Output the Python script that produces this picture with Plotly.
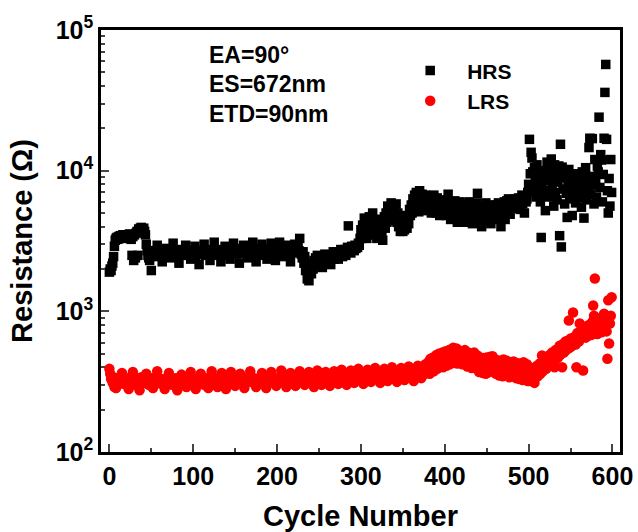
import plotly.graph_objects as go

cycles = list(range(0, 600))

hrs = [
    1900, 2000, 1950, 2100, 2200, 2450, 2900, 3200, 3300, 3350, 3250, 3400, 3300, 3450, 3350, 3400, 3500, 3300, 3450, 3400,
    3500, 3350, 3450, 3400, 3550, 3300, 3250, 2500, 3400, 2300, 3500, 2400, 3600, 3700, 2500, 3850, 3750, 3900, 3950, 3800,
    3850, 3900, 3700, 3500, 3000, 2700, 2500, 2400, 2300, 2500, 1950, 2500, 2650, 2550, 2700, 2600, 2450, 2950, 2600, 2550,
    2700, 2500, 2650, 2250, 2600, 2700, 2550, 2650, 2800, 2600, 2500, 2650, 2600, 2400, 2700, 2550, 3050, 2600, 2650, 2500,
    2550, 2700, 2600, 2200, 2650, 2550, 2750, 2600, 2500, 2650, 2600, 2950, 2550, 2650, 2700, 2500, 2600, 2350, 2650, 2550,
    2700, 2600, 2900, 2500, 2650, 2600, 2550, 2150, 2700, 2600, 2650, 2550, 2600, 3000, 2700, 2500, 2650, 2600, 2550, 2700,
    2300, 2600, 2650, 2750, 2550, 3100, 2600, 2650, 2500, 2700, 2600, 2550, 2700, 2250, 2650, 2600, 2750, 2550, 2900, 2650,
    2600, 2700, 2500, 2650, 2350, 2700, 2600, 2750, 3050, 2650, 2600, 2700, 2550, 2650, 2800, 2200, 2650, 2700, 2600, 2750,
    2950, 2650, 2600, 2700, 2550, 2400, 2700, 2650, 2750, 2600, 2700, 3100, 2650, 2600, 2750, 2250, 2700, 2650, 2600, 2800,
    2700, 2650, 3000, 2600, 2750, 2500, 2700, 2650, 2350, 2750, 2700, 2650, 2800, 3050, 2700, 2600, 2750, 2650, 2300, 2700,
    2800, 2650, 2750, 3100, 2700, 2600, 2750, 2450, 2700, 2800, 2650, 2750, 2950, 2700, 2600, 2800, 2250, 2700, 2750, 2650,
    2800, 3000, 2700, 2750, 2600, 2850, 2700, 3300, 2650, 2550, 2400, 2650, 2200, 2450, 1950, 2100, 1700, 1800, 1650, 1900,
    2050, 1850, 2200, 2000, 2300, 2100, 2400, 2250, 2500, 2300, 2350, 2150, 2450, 2300, 2050, 2400, 2300, 2550, 2250, 2400,
    2500, 2300, 2450, 2350, 2150, 2500, 2450, 2650, 2350, 2500, 2450, 2650, 2550, 2350, 2600, 2500, 2750, 2600, 2450, 2650,
    2600, 2750, 2500, 2700, 2850, 4050, 2700, 2800, 2600, 2900, 2750, 2850, 2700, 2950, 2800, 2900, 2850, 3050, 2950, 3300,
    3800, 3300, 4100, 3600, 4600, 3700, 4300, 3300, 4200, 3600, 4700, 4100, 3500, 4300, 5000, 3800, 3500, 4500, 3900, 3300,
    3700, 4200, 3400, 3900, 4500, 3500, 3200, 4000, 4700, 3900, 5000, 4300, 5600, 4500, 5300, 4400, 5900, 5000, 5500, 4500,
    5300, 4600, 5800, 4300, 5000, 4000, 4600, 3700, 4500, 4100, 3700, 4700, 3800, 4300, 4800, 3900, 4700, 4200, 5300, 4800,
    5700, 5000, 6300, 5200, 6700, 5600, 7000, 5800, 6500, 5100, 7200, 6000, 5400, 6800, 5800, 6300, 5200, 6700, 6000, 5500,
    6400, 5300, 6500, 5700, 5000, 6300, 5500, 6700, 5300, 6100, 5000, 6400, 5400, 6000, 4800, 5900, 5300, 6200, 4900, 5700,
    5400, 6000, 4800, 5600, 6800, 4900, 5800, 4500, 5500, 4600, 5900, 5000, 6100, 4700, 5400, 4300, 5700, 5000, 6000, 4600,
    5300, 5800, 4400, 5200, 5700, 4300, 5000, 5600, 4600, 6000, 5100, 4500, 5500, 4200, 5100, 5700, 4700, 5300, 5900, 6900,
    4900, 5500, 4500, 5300, 4000, 5600, 4700, 5400, 4600, 5900, 5000, 4400, 5500, 4700, 5400, 4200, 5700, 4900, 5500, 4500,
    5300, 5700, 4700, 5500, 5900, 4600, 5600, 4000, 5300, 5800, 5000, 6000, 4500, 5700, 6100, 5100, 6300, 5400, 4900, 6200,
    5600, 6000, 5400, 5900, 6300, 5700, 6100, 5500, 6400, 5900, 5300, 6200, 6700, 5800, 6100, 5000, 6500, 6000, 6300, 7000,
    8000, 16700, 9500, 13500, 12300, 9800, 7500, 10500, 8500, 6500, 11000, 8200, 7000, 9200, 6000, 3350, 7800, 10000, 6800, 9000,
    5200, 8500, 11500, 7200, 10300, 6500, 9000, 12100, 7600, 8800, 5600, 11000, 7000, 9500, 6200, 8300, 10800, 3450, 15400, 2870,
    10600, 7400, 8900, 5800, 9700, 6900, 4650, 8200, 10200, 6300, 8700, 7500, 4800, 9300, 6600, 8000, 5900, 9500, 7100, 8400,
    6400, 9000, 7300, 5500, 9800, 8100, 4600, 7000, 10500, 6200, 8600, 7700, 14600, 17000, 6800, 9100, 16900, 7900, 5800, 12000,
    8700, 6500, 10800, 9800, 24000, 7600, 13000, 11900, 6000, 9400, 17000, 36000, 56900, 16700, 7200, 5000, 8800, 5600, 12000, 7000,
]

lrs = [
    390, 360, 330, 345, 310, 320, 290, 300, 285, 330, 315, 325, 340, 310, 320, 365, 325, 305, 330, 315,
    320, 310, 335, 280, 325, 315, 330, 320, 370, 310, 325, 335, 300, 320, 315, 330, 275, 325, 340, 315,
    325, 310, 330, 320, 360, 315, 325, 300, 330, 320, 310, 335, 285, 320, 325, 315, 330, 375, 320, 310,
    325, 320, 305, 330, 315, 325, 280, 320, 335, 310, 325, 365, 320, 315, 330, 300, 325, 320, 310, 335,
    320, 275, 325, 315, 330, 320, 355, 310, 325, 330, 315, 320, 290, 325, 335, 315, 320, 370, 310, 325,
    330, 315, 320, 280, 325, 335, 310, 320, 325, 360, 315, 330, 320, 300, 325, 315, 335, 320, 285, 325,
    320, 330, 375, 315, 325, 320, 310, 335, 320, 290, 325, 330, 315, 320, 365, 325, 310, 330, 320, 280,
    325, 335, 315, 320, 330, 370, 320, 310, 325, 335, 295, 320, 325, 315, 330, 320, 360, 325, 310, 330,
    325, 285, 320, 335, 315, 330, 320, 325, 375, 315, 330, 320, 310, 335, 325, 290, 320, 330, 315, 325,
    335, 320, 365, 325, 315, 330, 320, 285, 325, 335, 320, 315, 330, 370, 320, 325, 310, 335, 325, 295,
    320, 335, 325, 315, 330, 380, 325, 320, 335, 315, 330, 290, 325, 335, 320, 330, 365, 325, 315, 335,
    330, 320, 295, 335, 325, 330, 320, 375, 330, 325, 315, 335, 320, 300, 330, 325, 340, 320, 370, 330,
    325, 335, 320, 330, 290, 335, 325, 330, 380, 320, 335, 330, 325, 300, 335, 330, 320, 340, 370, 330,
    335, 325, 330, 295, 340, 330, 325, 335, 375, 330, 340, 325, 335, 305, 330, 340, 325, 385, 335, 330,
    340, 330, 335, 300, 340, 335, 330, 345, 380, 335, 340, 330, 310, 345, 335, 340, 330, 390, 340, 335,
    345, 335, 340, 305, 345, 340, 335, 350, 385, 340, 345, 335, 315, 350, 340, 345, 335, 395, 345, 340,
    350, 340, 345, 310, 350, 345, 340, 355, 390, 345, 350, 340, 320, 355, 345, 350, 340, 400, 350, 345,
    355, 345, 350, 315, 355, 350, 345, 360, 395, 350, 355, 345, 325, 360, 350, 355, 345, 405, 355, 350,
    360, 350, 355, 320, 365, 360, 355, 370, 410, 360, 370, 355, 335, 375, 365, 380, 360, 420, 375, 370,
    380, 440, 360, 460, 395, 430, 470, 375, 450, 405, 490, 390, 455, 500, 410, 470, 420, 510, 400, 480,
    430, 520, 410, 480, 445, 530, 420, 495, 455, 540, 550, 430, 510, 450, 545, 425, 500, 460, 525, 440,
    500, 420, 515, 445, 530, 425, 490, 405, 510, 440, 415, 495, 395, 475, 430, 510, 405, 465, 390, 485,
    420, 370, 470, 395, 450, 365, 465, 385, 435, 360, 470, 380, 450, 370, 475, 395, 410, 480, 375, 455,
    400, 360, 450, 385, 435, 350, 445, 370, 425, 345, 455, 365, 430, 355, 445, 380, 415, 340, 435, 365,
    410, 345, 440, 360, 420, 335, 430, 370, 405, 330, 425, 355, 410, 325, 435, 350, 400, 335, 420, 320,
    385, 320, 365, 330, 395, 340, 360, 310, 350, 375, 410, 345, 390, 425, 360, 405, 486, 375, 430, 395,
    445, 390, 470, 410, 455, 490, 420, 475, 510, 440, 495, 400, 530, 460, 515, 470, 545, 570, 490, 540,
    400, 585, 510, 560, 610, 530, 590, 620, 860, 550, 640, 590, 570, 980, 610, 660, 580, 400, 700, 630,
    610, 820, 670, 650, 720, 380, 690, 740, 650, 780, 700, 670, 800, 720, 760, 680, 840, 1100, 930, 1710,
    760, 820, 690, 870, 740, 800, 900, 710, 850, 780, 960, 730, 880, 720, 460, 1200, 590, 820, 930, 1260,
]

x_ticks = [0, 100, 200, 300, 400, 500, 600]
y_ticks = [100, 1000, 10000, 100000]
y_tick_text = ["10<sup>2</sup>", "10<sup>3</sup>", "10<sup>4</sup>", "10<sup>5</sup>"]
y_minor = [m * d for d in (100, 1000, 10000) for m in range(2, 10)]
notes = ["EA=90°", "ES=672nm", "ETD=90nm"]

FONT = "Liberation Sans, Arial, sans-serif"

fig = go.Figure()
fig.add_trace(go.Scatter(x=cycles, y=hrs, mode="markers", name="HRS",
                         marker=dict(symbol="square", size=9.5, color="black", line=dict(width=0))))
fig.add_trace(go.Scatter(x=cycles, y=lrs, mode="markers", name="LRS",
                         marker=dict(symbol="circle", size=10.5, color="#ff0000", line=dict(width=0))))

note_y = [0.94, 0.871, 0.802]
for t, yy in zip(notes, note_y):
    fig.add_annotation(text=t, xref="paper", yref="paper", x=0.204, y=yy,
                       xanchor="left", yanchor="middle", showarrow=False,
                       font=dict(family=FONT, size=23, color="black", weight="bold"))

fig.update_layout(
    width=638, height=532,
    margin=dict(l=101, r=18, t=30, b=80),
    paper_bgcolor="white", plot_bgcolor="white",
    font=dict(family=FONT, color="black", weight="bold"),
    legend=dict(x=0.563, y=0.952, xanchor="left", yanchor="top",
                bgcolor="rgba(0,0,0,0)", itemwidth=64,
                font=dict(family=FONT, size=21, color="black", weight="bold")),
    xaxis=dict(range=[-10, 609], tickvals=x_ticks, ticks="inside", ticklen=8, tickwidth=2,
               minor=dict(dtick=50, tick0=0, ticks="inside", ticklen=4, tickwidth=2),
               showline=True, linewidth=2.5, linecolor="black", mirror=True,
               showgrid=False, zeroline=False, automargin=False,
               tickfont=dict(family=FONT, size=25, color="black", weight="bold"),
               title=dict(text="Cycle Number", standoff=22,
                          font=dict(family=FONT, size=29, color="black", weight="bold"))),
    yaxis=dict(type="log", range=[2, 5], tickvals=y_ticks, ticktext=y_tick_text,
               ticks="inside", ticklen=8, tickwidth=2,
               minor=dict(tickvals=y_minor, ticks="inside", ticklen=4, tickwidth=2),
               showline=True, linewidth=2.5, linecolor="black", mirror=True,
               showgrid=False, zeroline=False, automargin=False,
               tickfont=dict(family=FONT, size=25, color="black", weight="bold"),
               title=dict(text="Resistance (Ω)", standoff=15,
                          font=dict(family=FONT, size=29, color="black", weight="bold"))),
)

fig.write_html("out.html")
